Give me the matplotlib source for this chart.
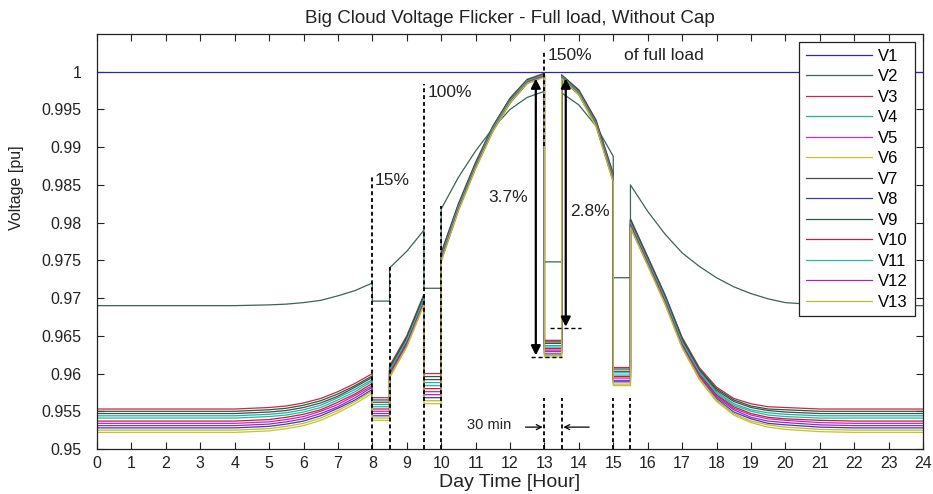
import matplotlib
matplotlib.use('Agg')
import matplotlib.pyplot as plt

plt.rcParams['font.family'] = ['Liberation Sans', 'DejaVu Sans']

# ---------------- data ----------------
hours = [0, 2, 4, 5, 5.5, 6, 6.5, 7, 7.5, 8, 8, 8.5, 8.5, 9, 9.5, 9.5, 10, 10,
         10.5, 11, 11.5, 12, 12.5, 13, 13, 13.5, 13.5, 14, 14.5, 15, 15, 15.5,
         15.5, 16, 16.5, 17, 17.5, 18, 18.5, 19, 19.5, 20, 21, 22, 24]

v1_hours = [0, 24]
v1 = [1.0, 1.0]

v2 = [0.9690, 0.9690, 0.9690, 0.9691, 0.9692, 0.9694, 0.9697, 0.9703, 0.9710, 0.9720,
      0.9696, 0.9696, 0.9740, 0.9762, 0.9790, 0.9713, 0.9713, 0.9818, 0.9860, 0.9895,
      0.9925, 0.9950, 0.9966, 0.9974, 0.9748, 0.9748, 0.9972, 0.9956, 0.9928, 0.9888,
      0.9727, 0.9727, 0.9850, 0.9815, 0.9785, 0.9760, 0.9742, 0.9727, 0.9715, 0.9706,
      0.9699, 0.9694, 0.9691, 0.9690, 0.9690]

v3 = [0.9553, 0.9553, 0.9553, 0.9555, 0.9557, 0.9561, 0.9567, 0.9576, 0.9587, 0.9600,
      0.9568, 0.9568, 0.9610, 0.9650, 0.9705, 0.9600, 0.9600, 0.9760, 0.9825, 0.9880,
      0.9928, 0.9965, 0.9990, 0.9998, 0.9644, 0.9644, 0.9996, 0.9976, 0.9936, 0.9865,
      0.9608, 0.9608, 0.9805, 0.9755, 0.9705, 0.9648, 0.9608, 0.9582, 0.9567, 0.9560,
      0.9556, 0.9555, 0.9553, 0.9553, 0.9553]

v9 = [0.9550, 0.9550, 0.9550, 0.9552, 0.9554, 0.9558, 0.9564, 0.9573, 0.9584, 0.9597,
      0.9565, 0.9565, 0.9608, 0.9648, 0.9704, 0.9596, 0.9596, 0.9759, 0.9824, 0.9879,
      0.9927, 0.9964, 0.9989, 0.9997, 0.9642, 0.9642, 0.9995, 0.9975, 0.9935, 0.9864,
      0.9606, 0.9606, 0.9804, 0.9754, 0.9704, 0.9647, 0.9606, 0.9580, 0.9565, 0.9557,
      0.9553, 0.9552, 0.9550, 0.9550, 0.9550]

v7 = [0.9547, 0.9547, 0.9547, 0.9549, 0.9551, 0.9555, 0.9561, 0.9570, 0.9582, 0.9595,
      0.9562, 0.9562, 0.9607, 0.9647, 0.9702, 0.9592, 0.9592, 0.9758, 0.9823, 0.9878,
      0.9926, 0.9964, 0.9989, 0.9997, 0.9640, 0.9640, 0.9995, 0.9975, 0.9934, 0.9863,
      0.9603, 0.9603, 0.9803, 0.9753, 0.9702, 0.9645, 0.9605, 0.9578, 0.9563, 0.9555,
      0.9551, 0.9549, 0.9547, 0.9547, 0.9547]

v4 = [0.9544, 0.9544, 0.9544, 0.9546, 0.9548, 0.9552, 0.9558, 0.9568, 0.9579, 0.9592,
      0.9559, 0.9559, 0.9605, 0.9645, 0.9701, 0.9588, 0.9588, 0.9756, 0.9822, 0.9877,
      0.9926, 0.9963, 0.9988, 0.9996, 0.9637, 0.9637, 0.9994, 0.9974, 0.9933, 0.9861,
      0.9601, 0.9601, 0.9801, 0.9751, 0.9701, 0.9644, 0.9603, 0.9576, 0.9560, 0.9552,
      0.9548, 0.9546, 0.9544, 0.9544, 0.9544]

v11 = [0.9541, 0.9541, 0.9541, 0.9543, 0.9545, 0.9549, 0.9555, 0.9565, 0.9576, 0.9590,
       0.9556, 0.9556, 0.9604, 0.9644, 0.9699, 0.9584, 0.9584, 0.9755, 0.9821, 0.9876,
       0.9925, 0.9962, 0.9988, 0.9996, 0.9635, 0.9635, 0.9994, 0.9973, 0.9932, 0.9860,
       0.9598, 0.9598, 0.9800, 0.9750, 0.9700, 0.9642, 0.9602, 0.9574, 0.9558, 0.9550,
       0.9545, 0.9543, 0.9541, 0.9541, 0.9541]

v10 = [0.9537, 0.9537, 0.9537, 0.9539, 0.9542, 0.9546, 0.9552, 0.9562, 0.9573, 0.9587,
       0.9553, 0.9553, 0.9602, 0.9642, 0.9698, 0.9580, 0.9580, 0.9754, 0.9820, 0.9875,
       0.9924, 0.9961, 0.9987, 0.9995, 0.9633, 0.9633, 0.9993, 0.9972, 0.9931, 0.9859,
       0.9596, 0.9596, 0.9799, 0.9749, 0.9698, 0.9641, 0.9600, 0.9572, 0.9556, 0.9547,
       0.9542, 0.9540, 0.9538, 0.9537, 0.9537]

v5 = [0.9534, 0.9534, 0.9534, 0.9536, 0.9539, 0.9543, 0.9550, 0.9559, 0.9571, 0.9584,
      0.9550, 0.9550, 0.9600, 0.9641, 0.9697, 0.9576, 0.9576, 0.9753, 0.9819, 0.9875,
      0.9923, 0.9961, 0.9986, 0.9995, 0.9631, 0.9631, 0.9992, 0.9972, 0.9931, 0.9858,
      0.9594, 0.9594, 0.9798, 0.9748, 0.9697, 0.9640, 0.9598, 0.9571, 0.9554, 0.9545,
      0.9540, 0.9538, 0.9535, 0.9534, 0.9534]

v12 = [0.9531, 0.9531, 0.9531, 0.9533, 0.9536, 0.9540, 0.9547, 0.9556, 0.9568, 0.9582,
       0.9547, 0.9547, 0.9599, 0.9639, 0.9695, 0.9572, 0.9572, 0.9752, 0.9818, 0.9874,
       0.9922, 0.9960, 0.9986, 0.9994, 0.9629, 0.9629, 0.9992, 0.9971, 0.9930, 0.9857,
       0.9591, 0.9591, 0.9797, 0.9747, 0.9696, 0.9638, 0.9597, 0.9569, 0.9552, 0.9542,
       0.9537, 0.9535, 0.9532, 0.9531, 0.9531]

v8 = [0.9528, 0.9528, 0.9528, 0.9530, 0.9533, 0.9537, 0.9544, 0.9554, 0.9565, 0.9579,
      0.9544, 0.9544, 0.9597, 0.9638, 0.9694, 0.9568, 0.9568, 0.9750, 0.9817, 0.9873,
      0.9922, 0.9959, 0.9985, 0.9994, 0.9626, 0.9626, 0.9991, 0.9970, 0.9929, 0.9855,
      0.9589, 0.9589, 0.9795, 0.9745, 0.9695, 0.9637, 0.9595, 0.9567, 0.9549, 0.9540,
      0.9534, 0.9532, 0.9529, 0.9528, 0.9528]

v13 = [0.9525, 0.9525, 0.9525, 0.9527, 0.9530, 0.9534, 0.9541, 0.9551, 0.9563, 0.9577,
       0.9541, 0.9541, 0.9596, 0.9636, 0.9692, 0.9564, 0.9564, 0.9749, 0.9816, 0.9872,
       0.9921, 0.9959, 0.9985, 0.9993, 0.9624, 0.9624, 0.9991, 0.9970, 0.9928, 0.9854,
       0.9586, 0.9586, 0.9794, 0.9744, 0.9693, 0.9635, 0.9594, 0.9565, 0.9547, 0.9537,
       0.9532, 0.9529, 0.9526, 0.9525, 0.9525]

v6 = [0.9522, 0.9522, 0.9522, 0.9524, 0.9527, 0.9531, 0.9538, 0.9548, 0.9560, 0.9574,
      0.9538, 0.9538, 0.9594, 0.9635, 0.9691, 0.9560, 0.9560, 0.9748, 0.9815, 0.9871,
      0.9920, 0.9958, 0.9984, 0.9993, 0.9622, 0.9622, 0.9990, 0.9969, 0.9927, 0.9853,
      0.9584, 0.9584, 0.9793, 0.9743, 0.9692, 0.9634, 0.9592, 0.9563, 0.9545, 0.9535,
      0.9529, 0.9526, 0.9523, 0.9522, 0.9522]

labels = ['V1', 'V2', 'V3', 'V4', 'V5', 'V6', 'V7', 'V8', 'V9', 'V10', 'V11', 'V12', 'V13']
colors = ['#2a2ab0', '#3c6450', '#c8284a', '#22b0a0', '#c828c0', '#c4c428',
          '#4a4a4a', '#3a3ac0', '#2f5a40', '#c02040', '#20bca0', '#a028b8', '#bcbc30']

x_ticks = list(range(0, 25))
y_ticks = [0.95, 0.955, 0.96, 0.965, 0.97, 0.975, 0.98, 0.985, 0.99, 0.995, 1.0]
y_tick_labels = ['0.95', '0.955', '0.96', '0.965', '0.97', '0.975', '0.98', '0.985',
                 '0.99', '0.995', '1']

# ---------------- figure ----------------
fig = plt.figure(figsize=(9.33, 4.94), dpi=100)
ax = fig.add_axes([97 / 933, 1 - 449 / 494, (923 - 97) / 933, (449 - 34) / 494])

series = [v2, v3, v4, v5, v6, v7, v8, v9, v10, v11, v12, v13]
ax.plot(v1_hours, v1, color=colors[0], lw=0.9, label=labels[0])
for s, c, lab in zip(series, colors[1:], labels[1:]):
    ax.plot(hours, s, color=c, lw=0.9, label=lab)

ax.set_xlim(0, 24)
ax.set_ylim(0.95, 1.005)
ax.set_xticks(x_ticks)
ax.set_xticklabels([str(h) for h in x_ticks])
ax.set_yticks(y_ticks)
ax.set_yticklabels(y_tick_labels)
ax.tick_params(direction='in', length=5, width=0.8, top=True, right=True,
               labelsize=11.5, colors='#222222')
ax.tick_params(axis='y', pad=11)
ax.tick_params(axis='x', pad=5)
for sp in ax.spines.values():
    sp.set_linewidth(0.9)
    sp.set_color('#222222')

ax.set_title('Big Cloud Voltage Flicker - Full load, Without Cap', fontsize=13.5,
             pad=8, color='#222222')
ax.set_xlabel('Day Time [Hour]', fontsize=14, labelpad=2, color='#222222')
ax.set_ylabel('Voltage [pu]', fontsize=11.5, color='#222222')
ax.yaxis.set_label_coords(-0.088, 0.63)

# dashed marker lines
dash = (0, (2.2, 1.6))
vlines = [(8, 0.95, 0.9862), (8.5, 0.95, 0.9741), (9.5, 0.95, 0.9984),
          (10, 0.95, 0.9822), (13, 0.9902, 1.0028),
          (13, 0.95, 0.9568), (13.5, 0.95, 0.9568), (15, 0.95, 0.9568), (15.5, 0.95, 0.9568)]
for xv, y0, y1 in vlines:
    ax.plot([xv, xv], [y0, y1], color='black', lw=1.3, linestyle=dash)

# horizontal dashed marks at arrow ends
ax.plot([12.6, 13.5], [0.9622, 0.9622], color='black', lw=1.0, linestyle=(0, (3, 2)))
ax.plot([13.15, 14.05], [0.9661, 0.9661], color='black', lw=1.0, linestyle=(0, (3, 2)))

# percentage annotations
tkw = dict(fontsize=12.5, va='center', ha='left', color='#222222')
ax.text(8.07, 0.9856, '15%', **tkw)
ax.text(9.6, 0.9973, '100%', **tkw)
ax.text(13.08, 1.0022, '150%', **tkw)
ax.text(15.3, 1.0022, 'of full load', **tkw)
ax.text(11.38, 0.9833, '3.7%', **tkw)
ax.text(13.75, 0.9815, '2.8%', **tkw)

arrow_kw = dict(arrowstyle='<|-|>', color='black', lw=1.6, mutation_scale=14,
                shrinkA=0, shrinkB=0)
ax.annotate('', xy=(12.75, 0.9991), xytext=(12.75, 0.9624), arrowprops=arrow_kw)
ax.annotate('', xy=(13.62, 0.9991), xytext=(13.62, 0.9662), arrowprops=arrow_kw)

# 30 min marker
ax.text(10.74, 0.9532, '30 min', fontsize=10.5, va='center', ha='left', color='#222222')
small_arrow = dict(arrowstyle='->', color='black', lw=0.9, mutation_scale=9,
                   shrinkA=0, shrinkB=0)
ax.annotate('', xy=(12.95, 0.9529), xytext=(12.45, 0.9529), arrowprops=small_arrow)
ax.annotate('', xy=(13.55, 0.9529), xytext=(14.3, 0.9529), arrowprops=small_arrow)

leg = ax.legend(loc='upper right', bbox_to_anchor=(0.990, 0.981), borderaxespad=0,
                fontsize=12, handlelength=4.0, handletextpad=0.35, labelspacing=0.33,
                frameon=True, fancybox=False, framealpha=1, borderpad=0.4)
leg.get_frame().set_edgecolor('#222222')
leg.get_frame().set_linewidth(0.9)

fig.savefig('out.png', dpi=100)
